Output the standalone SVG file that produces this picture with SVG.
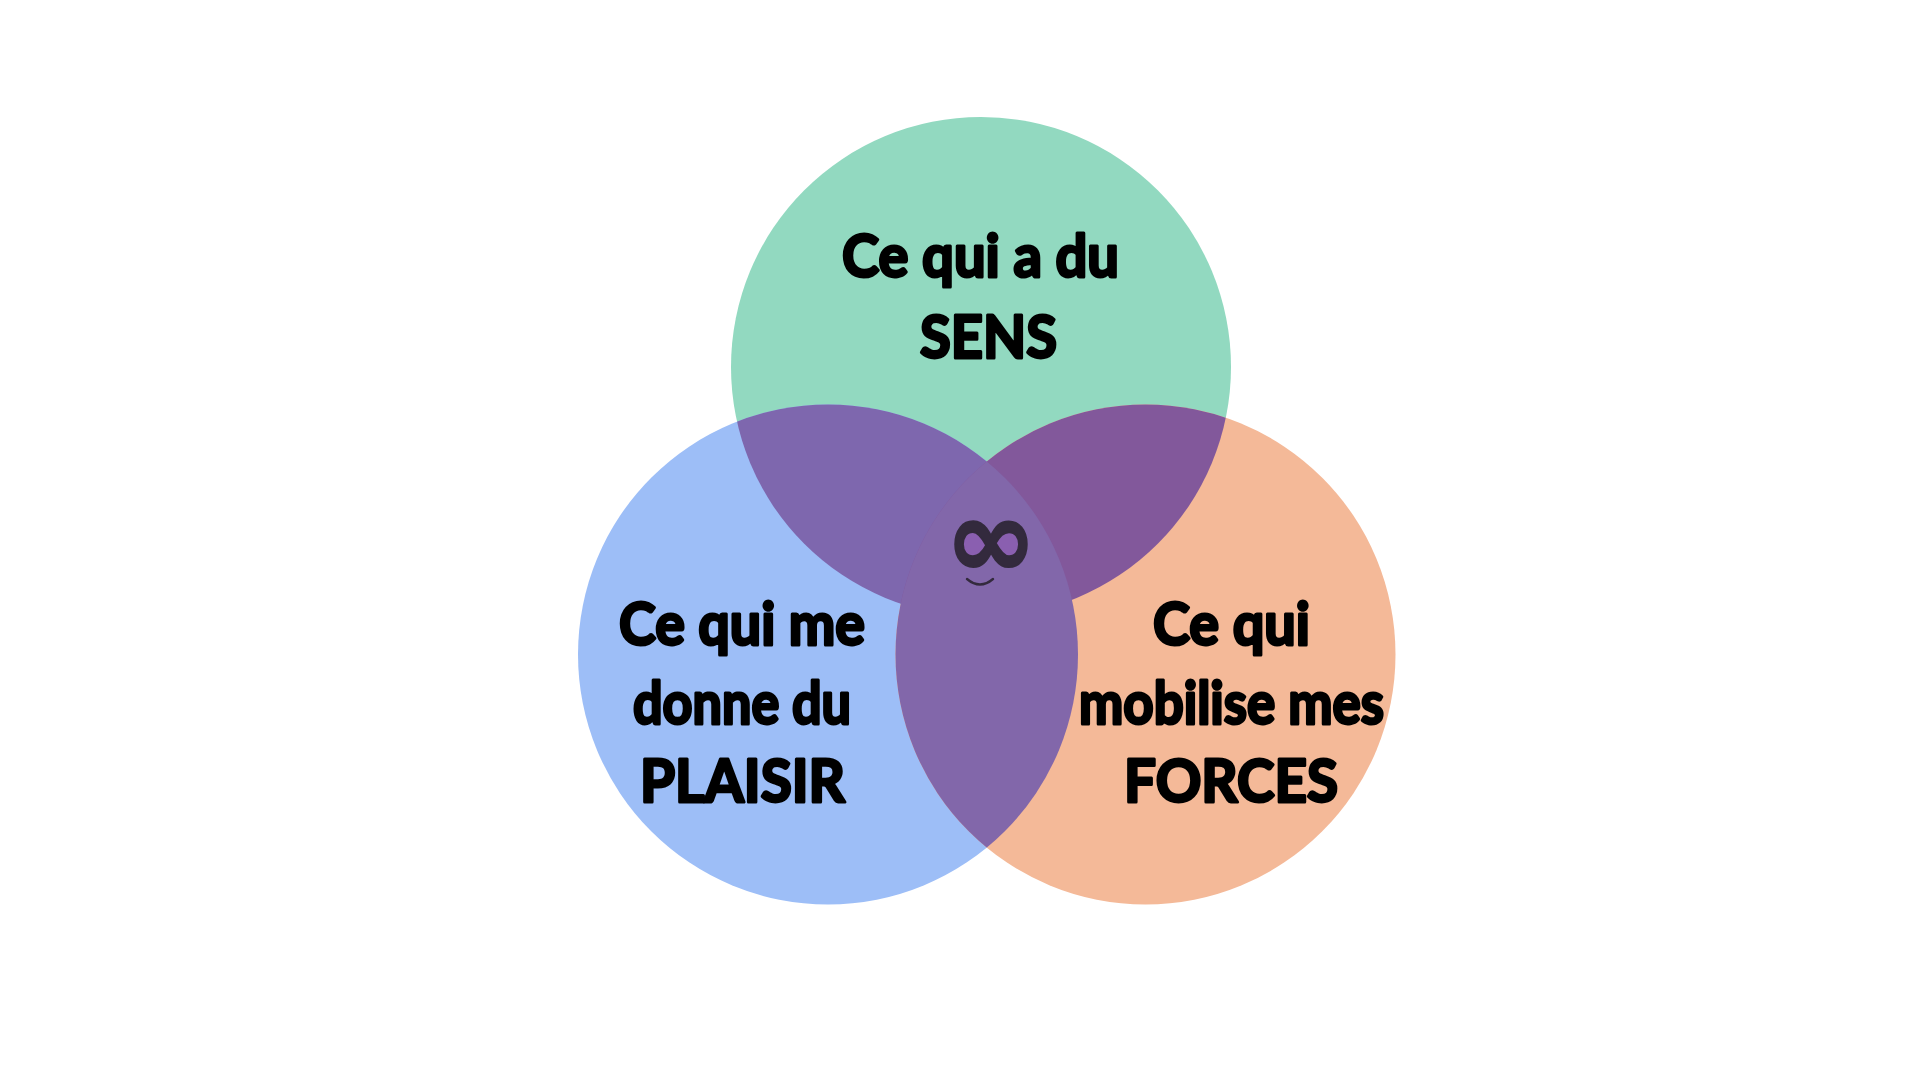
<svg xmlns="http://www.w3.org/2000/svg" width="1920" height="1080" viewBox="0 0 1920 1080">
<style>
.l{font-family:"Lato","Open Sans","Liberation Sans",sans-serif;font-weight:700;font-size:60px;fill:#000;stroke:#000;stroke-width:3px;stroke-linejoin:round;paint-order:stroke}
.cap{font-size:60px}
</style>
<defs>
<clipPath id="cg"><circle cx="981" cy="367" r="250"/></clipPath>
<clipPath id="cb"><circle cx="828" cy="654.5" r="250"/></clipPath>
<clipPath id="co"><circle cx="1145.5" cy="654.5" r="250"/></clipPath>
</defs>
<rect width="1920" height="1080" fill="#fff"/>
<g id="sens"><circle cx="981" cy="367" r="250" fill="#92D9C0"/></g>
<g id="plaisir"><circle cx="828" cy="654.5" r="250" fill="#9DBEF7"/></g>
<g id="forces"><circle cx="1145.5" cy="654.5" r="250" fill="#F4B998"/></g>
<g id="overlaps">
<g clip-path="url(#cg)"><circle cx="828" cy="654.5" r="250" fill="#7E67AE"/><circle cx="1145.5" cy="654.5" r="250" fill="#82589B"/></g>
<g clip-path="url(#cb)"><circle cx="1145.5" cy="654.5" r="250" fill="#8267AA"/></g>
</g>
<g id="label-sens">
<text class="l" x="842" y="277" textLength="277" lengthAdjust="spacingAndGlyphs">Ce qui a du</text>
<text class="l cap" x="920" y="358" textLength="137" lengthAdjust="spacingAndGlyphs">SENS</text>
</g>
<g id="label-plaisir">
<text class="l" x="619" y="645" textLength="246" lengthAdjust="spacingAndGlyphs">Ce qui me</text>
<text class="l" x="633" y="724" textLength="218" lengthAdjust="spacingAndGlyphs">donne du</text>
<text class="l cap" x="640" y="802" textLength="205" lengthAdjust="spacingAndGlyphs">PLAISIR</text>
</g>
<g id="label-forces">
<text class="l" x="1153" y="645" textLength="157" lengthAdjust="spacingAndGlyphs">Ce qui</text>
<text class="l" x="1079" y="724" textLength="305" lengthAdjust="spacingAndGlyphs">mobilise mes</text>
<text class="l cap" x="1124" y="802" textLength="214" lengthAdjust="spacingAndGlyphs">FORCES</text>
</g>
<g id="center">
<ellipse cx="974" cy="546" rx="11" ry="15" fill="#8A5FB0"/>
<ellipse cx="1007" cy="545" rx="11" ry="15" fill="#8A5FB0"/>
<text transform="translate(991 577) scale(1.2 1.2)" text-anchor="middle" font-family="DejaVu Sans, sans-serif" font-weight="700" font-size="92" fill="#332A3D" stroke="#332A3D" stroke-width="1.5">∞</text>
<path d="M967 579Q980 590 993 579" fill="none" stroke="#332A3D" stroke-width="2.4" stroke-linecap="round"/>
</g>
</svg>
